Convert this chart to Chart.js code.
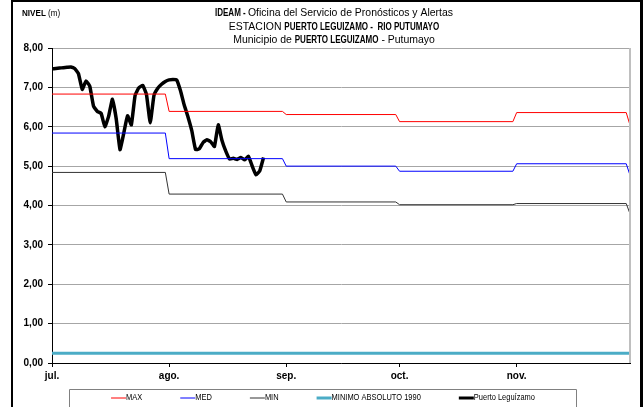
<!DOCTYPE html>
<html>
<head>
<meta charset="utf-8">
<script src="https://cdn.jsdelivr.net/npm/chart.js@4.4.1/dist/chart.umd.min.js"></script>
<style>
  html, body { margin: 0; padding: 0; background: #fff; }
</style>
</head>
<body>
<canvas id="nivel-chart" width="643" height="407"></canvas>
<script>
// month ticks (days counted from 1 July)
let monthStarts = [0, 31, 62, 92, 123, 153];
let monthLabels = ["jul.", "ago.", "sep.", "oct.", "nov."];

// monthly reference levels (m), last value = 1 Dec
let maxLevels = [6.83, 6.39, 6.31, 6.13, 6.36, 6.04];
let medLevels = [5.84, 5.19, 5.0, 4.87, 5.06, 4.77];
let minLevels = [4.84, 4.29, 4.09, 4.02, 4.05, 3.79];
let minimoAbsoluto1990 = 0.25;

// daily level at Puerto Leguizamo from 1 July
let puertoLevels = [
  7.47, 7.48, 7.49, 7.5, 7.51, 7.52, 7.48, 7.35, 6.95, 7.16,
  7.03, 6.52, 6.39, 6.34, 6.0, 6.27, 6.7, 6.2, 5.42, 5.84,
  6.28, 6.05, 6.8, 6.99, 7.05, 6.82, 6.1, 6.8, 6.98, 7.08,
  7.15, 7.19, 7.2, 7.19, 6.92, 6.55, 6.25, 5.9, 5.42, 5.44,
  5.6, 5.67, 5.62, 5.5, 6.05, 5.65, 5.38, 5.18, 5.2, 5.17,
  5.22, 5.16, 5.25, 5.0, 4.78, 4.88, 5.22,
];

let yTicks = [0, 1, 2, 3, 4, 5, 6, 7, 8];

let fontFamily = "'Liberation Sans', Arial, sans-serif";

function stepSeries(levels) {
  let pts = [];
  for (let i = 0; i < levels.length - 1; i++) {
    pts.push({ x: monthStarts[i], y: levels[i] });
    pts.push({ x: monthStarts[i + 1] - 1, y: levels[i] });
  }
  pts.push({ x: monthStarts[monthStarts.length - 1], y: levels[levels.length - 1] });
  return pts;
}

let puertoPoints = puertoLevels.map((v, i) => ({ x: i, y: v }));
let minimoPoints = [
  { x: monthStarts[0], y: minimoAbsoluto1990 },
  { x: monthStarts[monthStarts.length - 1], y: minimoAbsoluto1990 },
];

let titleLines = [
  [["IDEAM - ", true], ["Oficina del Servicio de Pronósticos y Alertas", false]],
  [["ESTACION ", false], ["PUERTO LEGUIZAMO -  RIO PUTUMAYO", true]],
  [["Municipio de ", false], ["PUERTO LEGUIZAMO", true], [" - Putumayo", false]],
];

// narrow look: squeeze text horizontally (no Arial Narrow here)
function drawNarrow(ctx, text, x, y, font, sx) {
  ctx.save();
  ctx.font = font;
  ctx.translate(x, y);
  ctx.scale(sx, 1);
  ctx.fillText(text, 0, 0);
  ctx.restore();
}

function drawRich(ctx, segs, cx, y, size) {
  let parts = segs.map((s) => {
    let font = (s[1] ? "bold " : "") + size + "px " + fontFamily;
    let sx = s[1] ? 0.73 : 0.95;
    ctx.font = font;
    return { text: s[0], font: font, sx: sx, w: ctx.measureText(s[0]).width * sx };
  });
  let total = parts.reduce((a, p) => a + p.w, 0);
  let x = cx - total / 2;
  parts.forEach((p) => {
    drawNarrow(ctx, p.text, x, y, p.font, p.sx);
    x += p.w;
  });
}

let decorPlugin = {
  id: "decor",
  afterDraw(chart) {
    let ctx = chart.ctx;
    let area = chart.chartArea;
    ctx.save();
    // right plot border
    ctx.strokeStyle = "#bfbfbf";
    ctx.lineWidth = 2;
    ctx.beginPath();
    ctx.moveTo(area.right, area.top);
    ctx.lineTo(area.right, area.bottom);
    ctx.stroke();

    // outer frame
    ctx.strokeStyle = "#000";
    ctx.lineWidth = 2;
    ctx.beginPath();
    ctx.moveTo(12, 410);
    ctx.lineTo(12, 1);
    ctx.lineTo(641, 1);
    ctx.stroke();
    ctx.lineWidth = 3;
    ctx.beginPath();
    ctx.moveTo(641.5, 0);
    ctx.lineTo(641.5, 410);
    ctx.stroke();

    // titles
    ctx.fillStyle = "#000";
    ctx.textBaseline = "middle";
    ctx.textAlign = "left";
    titleLines.forEach((segs, i) => {
      drawRich(ctx, segs, 334, 13 + i * 13.5, 11);
    });
    drawNarrow(ctx, "NIVEL", 22, 14, "bold 9px " + fontFamily, 0.9);
    ctx.font = "bold 9px " + fontFamily;
    let w = ctx.measureText("NIVEL ").width * 0.9;
    drawNarrow(ctx, "(m)", 22 + w, 14, "9px " + fontFamily, 0.9);

    // legend
    let boxLeft = 69.5, boxRight = 576.5, boxTop = 389.5;
    ctx.strokeStyle = "#808080";
    ctx.lineWidth = 1;
    ctx.beginPath();
    ctx.moveTo(boxLeft, 410);
    ctx.lineTo(boxLeft, boxTop);
    ctx.lineTo(boxRight, boxTop);
    ctx.lineTo(boxRight, 410);
    ctx.stroke();

    let legendFont = "8.5px " + fontFamily;
    ctx.font = legendFont;
    let sample = 15, gap = 38, lsx = 0.88;
    let items = chart.data.datasets.map((ds) => ({
      label: ds.label,
      color: ds.borderColor,
      width: Math.min(ds.borderWidth, 3),
      w: sample + ctx.measureText(ds.label).width * lsx,
    }));
    let total = items.reduce((a, it) => a + it.w, 0) + gap * (items.length - 1);
    let x = (boxLeft + boxRight) / 2 - total / 2;
    let ly = 398;
    items.forEach((it) => {
      ctx.strokeStyle = it.color;
      ctx.lineWidth = it.width;
      ctx.beginPath();
      ctx.moveTo(x, ly);
      ctx.lineTo(x + sample, ly);
      ctx.stroke();
      ctx.fillStyle = "#000";
      drawNarrow(ctx, it.label, x + sample, ly, legendFont, lsx);
      x += it.w + gap;
    });
    ctx.restore();
  },
};

new Chart("nivel-chart", {
  type: "line",
  data: {
    datasets: [
      {
        label: "MAX",
        data: stepSeries(maxLevels),
        borderColor: "#ff0000",
        borderWidth: 1,
        pointRadius: 0,
      },
      {
        label: "MED",
        data: stepSeries(medLevels),
        borderColor: "#0000ff",
        borderWidth: 1,
        pointRadius: 0,
      },
      {
        label: "MIN",
        data: stepSeries(minLevels),
        borderColor: "#333333",
        borderWidth: 1,
        pointRadius: 0,
      },
      {
        label: "MINIMO ABSOLUTO 1990",
        data: minimoPoints,
        borderColor: "#4bacc6",
        borderWidth: 3,
        pointRadius: 0,
      },
      {
        label: "Puerto Leguízamo",
        data: puertoPoints,
        borderColor: "#000000",
        borderWidth: 3.5,
        pointRadius: 0,
        tension: 0.12,
      },
    ],
  },
  options: {
    responsive: false,
    animation: false,
    devicePixelRatio: 1,
    layout: {
      padding: { left: 0, top: 48, right: 13, bottom: 22 },
    },
    plugins: {
      legend: { display: false },
      title: { display: false },
      tooltip: { enabled: false },
    },
    scales: {
      x: {
        type: "linear",
        min: monthStarts[0],
        max: monthStarts[monthStarts.length - 1],
        afterBuildTicks: (scale) => {
          scale.ticks = monthStarts.slice(0, monthLabels.length).map((v) => ({ value: v }));
        },
        afterFit: (scale) => {
          scale.height = 22;
        },
        ticks: {
          autoSkip: false,
          maxRotation: 0,
          padding: 3,
          color: "#000",
          font: { family: fontFamily, size: 10, weight: "bold" },
          callback: (v) => monthLabels[monthStarts.indexOf(v)],
        },
        grid: {
          drawOnChartArea: false,
          drawTicks: true,
          tickLength: 4,
          tickColor: "#000",
        },
        border: { display: true, color: "#000", width: 1 },
      },
      y: {
        min: 0,
        max: 8,
        afterBuildTicks: (scale) => {
          scale.ticks = yTicks.map((v) => ({ value: v }));
        },
        afterFit: (scale) => {
          scale.width = 52;
        },
        ticks: {
          padding: 5,
          color: "#000",
          font: { family: fontFamily, size: 10, weight: "bold" },
          callback: (v) => v.toFixed(2).replace(".", ","),
        },
        grid: {
          color: "#a6a6a6",
          lineWidth: 1,
          borderDash: [1, 1],
          drawTicks: true,
          tickLength: 4,
          tickColor: "#000",
          tickBorderDash: [],
        },
        border: { display: true, color: "#000", width: 1 },
      },
    },
  },
  plugins: [decorPlugin],
});
</script>
</body>
</html>
